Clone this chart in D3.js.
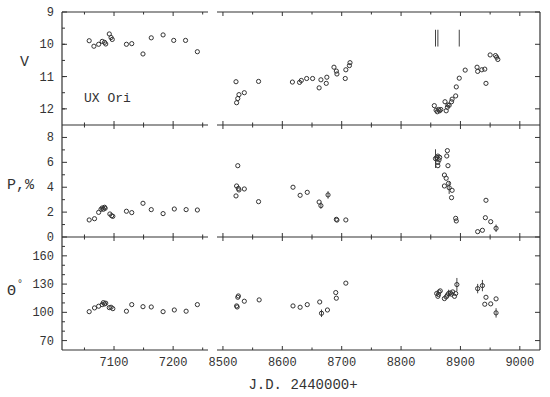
<!DOCTYPE html>
<meta charset="utf-8">
<style>
body { margin: 0; background: #fff; }
text { font-family: "Liberation Mono", "DejaVu Sans Mono", monospace; fill: #333; }
.frame { stroke: #333; stroke-width: 1.2; fill: none; }
.tick { stroke: #333; stroke-width: 1; }
.pt { fill: none; stroke: #333; stroke-width: 1; }
.err { stroke: #444; stroke-width: 1; }
</style>
<svg width="550" height="397"></svg>
<script src="https://d3js.org/d3.v7.min.js"></script>
<script>
// V magnitude
var vDays = [7058, 7066, 7074, 7080, 7084, 7086, 7092, 7095, 7097, 7121, 7130, 7149, 7163, 7183, 7201, 7221, 7241,
  8522, 8560, 8523, 8525, 8527, 8536, 8617, 8629, 8632, 8641, 8651, 8662, 8665, 8674, 8675, 8687, 8691, 8692, 8706, 8707, 8713, 8714,
  8856, 8859, 8861, 8863, 8865, 8867, 8874, 8876, 8878, 8879, 8881, 8885, 8886, 8892, 8893, 8898, 8908, 8928, 8929, 8936, 8941, 8943, 8950, 8959, 8961, 8963];
var vMag = [9.89, 10.06, 10.0, 9.91, 9.94, 9.99, 9.68, 9.79, 9.85, 10.0, 9.98, 10.30, 9.80, 9.71, 9.88, 9.88, 10.23,
  11.16, 11.15, 11.81, 11.68, 11.56, 11.5, 11.17, 11.18, 11.12, 11.06, 11.06, 11.35, 11.1, 11.21, 11.02, 10.71, 10.83, 10.92, 11.06, 10.79, 10.66, 10.57,
  11.90, 12.04, 12.09, 12.02, 12.06, 12.02, 11.78, 12.06, 11.95, 11.88, 11.89, 11.78, 11.70, 11.60, 11.32, 11.05, 10.80, 10.71, 10.84, 10.79, 10.77, 11.21, 10.33, 10.35, 10.40, 10.47];

// polarization P, %
var pDays = [7058, 7067, 7074, 7078, 7080, 7082, 7084, 7085, 7093, 7096, 7098, 7121, 7130, 7149, 7163, 7183, 7202, 7222, 7241,
  8523, 8526, 8527, 8536, 8522, 8525, 8560, 8618, 8630, 8642, 8662, 8665, 8677, 8691, 8692, 8707,
  8858, 8860, 8862, 8864, 8865, 8862, 8862, 8878, 8877, 8879, 8873, 8876, 8880, 8873, 8881, 8886, 8885, 8892, 8893, 8943, 8942, 8951, 8960, 8929, 8937];
var pVal = [1.37, 1.47, 1.98, 2.23, 2.33, 2.23, 2.39, 2.31, 1.85, 1.71, 1.66, 2.07, 1.96, 2.71, 2.20, 1.88, 2.25, 2.20, 2.17,
  4.1, 3.9, 3.78, 3.86, 3.3, 5.73, 2.84, 4.0, 3.35, 3.59, 2.81, 2.52, 3.38, 1.42, 1.36, 1.37,
  6.3, 6.4, 6.5, 6.2, 6.4, 6.0, 5.73, 6.94, 6.51, 5.73, 4.98, 4.72, 4.31, 4.1, 3.96, 3.75, 3.16, 1.5, 1.29, 2.95, 1.55, 1.23, 0.7, 0.43, 0.54];
var pErrDays = [8858, 8881, 8665, 8677, 8960];
var pErrVal = [6.3, 3.96, 2.52, 3.38, 0.7];
var pErrHalf = [0.75, 0.5, 0.25, 0.3, 0.3];

// position angle
var tDays = [7058, 7067, 7074, 7080, 7082, 7084, 7086, 7092, 7095, 7098, 7121, 7130, 7149, 7163, 7183, 7202, 7222, 7241,
  8526, 8525, 8523, 8524, 8536, 8561, 8618, 8630, 8642, 8663, 8666, 8676, 8691, 8690, 8707,
  8860, 8862, 8864, 8866, 8863, 8873, 8876, 8878, 8880, 8883, 8885, 8887, 8890, 8892, 8894, 8929, 8937, 8943, 8941, 8951, 8960, 8960];
var tVal = [100.7, 104.7, 106.5, 108.2, 110.3, 108.9, 109.7, 105, 105.4, 103.9, 101.2, 108.2, 106, 105.7, 100.7, 102.5, 101.2, 108.2,
  117.4, 116, 106.8, 105.7, 111.8, 113.2, 106.8, 105.4, 108.2, 111, 99, 102.5, 115, 121, 131,
  120, 117, 121.7, 122.8, 119, 114.6, 116.4, 118.2, 120, 120.6, 119.3, 121.7, 117, 120, 129.5, 125.2, 128.4, 116, 108.6, 109, 114.3, 99.4];
var tErrDays = [8666, 8880, 8894, 8929, 8937, 8960];
var tErrVal = [99, 120, 129.5, 125.2, 128.4, 99.4];
var tErrHalf = [4, 4, 7, 5, 6, 5];

// epoch markers in the V panel
var markDays = [8858, 8862, 8898];
var markRange = [9.55, 10.07];

var xTicksLeft = [7100, 7200];
var xTicksRight = [8500, 8600, 8700, 8800, 8900, 9000];

var svg = d3.select("svg");

var xL = d3.scaleLinear().domain([7012, 7259]).range([62, 208]);
var xR = d3.scaleLinear().domain([8490, 9034]).range([217, 540]);
function xPos(d) { return d < 8000 ? xL(d) : xR(d); }

var panels = [
  {y: d3.scaleLinear().domain([9, 12.5]).range([12, 125]), ticks: [9, 10, 11, 12], minor: d3.range(9.5, 12.5, 0.5), label: "V", lx: 20, ly: 66},
  {y: d3.scaleLinear().domain([0, 9]).range([237, 125]), ticks: [0, 2, 4, 6, 8], minor: [1, 3, 5, 7], label: "P,%", lx: 7, ly: 189},
  {y: d3.scaleLinear().domain([60, 180]).range([350, 237]), ticks: [70, 100, 130, 160], minor: d3.range(80, 180, 10).filter(function(v) { return (v - 70) % 30 != 0; }), label: "\u0398", lx: 7, ly: 295}
];
var segs = [[62, 208], [217, 540]];

// horizontal frame lines with axis break
var hLines = [12, 125, 237, 350];
hLines.forEach(function(yy) {
  segs.forEach(function(s) {
    svg.append("line").attr("class", "frame").attr("x1", s[0]).attr("x2", s[1]).attr("y1", yy).attr("y2", yy);
  });
});
svg.append("line").attr("class", "frame").attr("x1", 62).attr("x2", 62).attr("y1", 12).attr("y2", 350);
svg.append("line").attr("class", "frame").attr("x1", 540).attr("x2", 540).attr("y1", 12).attr("y2", 350);

// x ticks every 50 days on every horizontal line
var xt = d3.range(7050, 7259, 50).map(function(d) { return [xL(d), d % 100 == 0]; })
  .concat(d3.range(8500, 9034, 50).map(function(d) { return [xR(d), d % 100 == 0]; }));
hLines.forEach(function(yy, i) {
  xt.forEach(function(t) {
    var len = t[1] ? 4 : 2.5;
    var up = (i == 0) ? 0 : len, down = (i == 3) ? 0 : len;
    svg.append("line").attr("class", "tick").attr("x1", t[0]).attr("x2", t[0]).attr("y1", yy - up).attr("y2", yy + down);
  });
});

xTicksLeft.forEach(function(d) {
  svg.append("text").attr("x", xL(d)).attr("y", 366).attr("text-anchor", "middle").style("font-size", "12px").text(d);
});
xTicksRight.forEach(function(d) {
  svg.append("text").attr("x", xR(d)).attr("y", 366).attr("text-anchor", "middle").style("font-size", "12px").text(d);
});
svg.append("text").attr("x", 303).attr("y", 389).attr("text-anchor", "middle").style("font-size", "14px").text("J.D. 2440000+");

panels.forEach(function(p) {
  p.ticks.forEach(function(v) {
    var yy = p.y(v);
    svg.append("line").attr("class", "tick").attr("x1", 62).attr("x2", 67).attr("y1", yy).attr("y2", yy);
    svg.append("line").attr("class", "tick").attr("x1", 535).attr("x2", 540).attr("y1", yy).attr("y2", yy);
    svg.append("text").attr("x", 54).attr("y", yy + 4).attr("text-anchor", "end").style("font-size", "12px").text(v);
  });
  p.minor.forEach(function(v) {
    var yy = p.y(v);
    svg.append("line").attr("class", "tick").attr("x1", 62).attr("x2", 65).attr("y1", yy).attr("y2", yy);
  });
  svg.append("text").attr("x", p.lx).attr("y", p.ly).style("font-size", "15px").text(p.label);
});
// degree sign on the angle label
svg.append("text").attr("x", 17).attr("y", 287).style("font-size", "10px").text("\u00b0");

svg.append("text").attr("x", 84).attr("y", 102).style("font-size", "13px").text("UX Ori");

function dots(days, vals, y) {
  svg.append("g").selectAll("circle")
    .data(days)
    .enter().append("circle")
      .attr("class", "pt")
      .attr("cx", function(d) { return xPos(d); })
      .attr("cy", function(d, i) { return y(vals[i]); })
      .attr("r", 2.1);
}
function errs(days, vals, half, y) {
  svg.append("g").selectAll("line")
    .data(days)
    .enter().append("line")
      .attr("class", "err")
      .attr("x1", function(d) { return xPos(d); })
      .attr("x2", function(d) { return xPos(d); })
      .attr("y1", function(d, i) { return y(vals[i] - half[i]); })
      .attr("y2", function(d, i) { return y(vals[i] + half[i]); });
}

errs(pErrDays, pErrVal, pErrHalf, panels[1].y);
errs(tErrDays, tErrVal, tErrHalf, panels[2].y);
dots(vDays, vMag, panels[0].y);
dots(pDays, pVal, panels[1].y);
dots(tDays, tVal, panels[2].y);

svg.append("g").selectAll("line")
  .data(markDays)
  .enter().append("line")
    .attr("class", "err")
    .attr("x1", function(d) { return xR(d); })
    .attr("x2", function(d) { return xR(d); })
    .attr("y1", panels[0].y(markRange[0]))
    .attr("y2", panels[0].y(markRange[1]));
</script>
